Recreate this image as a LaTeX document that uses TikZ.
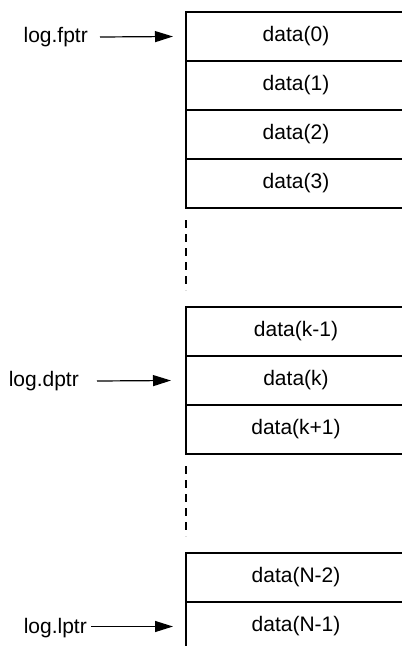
\documentclass[tikz,border=0pt]{standalone}
\usepackage{fontspec}
\setmainfont{Liberation Sans}
\usetikzlibrary{positioning, arrows.meta}

\begin{document}
\begin{tikzpicture}[x=1pt, y=-1pt,
        cell/.style={draw, line width=1.2pt, rectangle, outer sep=0pt, inner sep=0pt,
            minimum width=220pt, minimum height=49pt, font=\fontsize{21}{25}\selectfont},
        ptrlabel/.style={inner sep=0pt, anchor=east, font=\fontsize{21}{25}\selectfont},
        ptrarrow/.style={line width=1.2pt, -{Triangle[length=18pt, width=11pt]}},
        gap/.style={line width=1.2pt, dash pattern=on 8pt off 6pt}
    ]
    \useasboundingbox (0,0) rectangle (402,646);

    % first block
    \node[cell, anchor=north west] (d0) at (186,12) {data(0)};
    \node[cell, below=0pt of d0] (d1) {data(1)};
    \node[cell, below=0pt of d1] (d2) {data(2)};
    \node[cell, below=0pt of d2] (d3) {data(3)};

    % middle block
    \node[cell, anchor=north west] (dkm) at (186,307) {data(k-1)};
    \node[cell, below=0pt of dkm] (dk) {data(k)};
    \node[cell, below=0pt of dk] (dkp) {data(k+1)};

    % last block
    \node[cell, anchor=north west] (dnm) at (186,553) {data(N-2)};
    \node[cell, below=0pt of dnm] (dn) {data(N-1)};

    % skipped entries
    \draw[gap] ([yshift=-12pt]d3.south west) -- ([yshift=17pt]dkm.north west);
    \draw[gap] ([yshift=-12pt]dkp.south west) -- ([yshift=17pt]dnm.north west);

    % pointers
    \node[ptrlabel] (fptr) at (88,37) {log.fptr};
    \node[ptrlabel] (dptr) at (79,381) {log.dptr};
    \node[ptrlabel] (lptr) at (87,628) {log.lptr};

    \draw[ptrarrow] ([xshift=12pt]fptr.east) -- ([xshift=-13pt]d0.west);
    \draw[ptrarrow] ([xshift=18pt]dptr.east) -- ([xshift=-15pt]dk.west);
    \draw[ptrarrow] ([xshift=4pt]lptr.east |- dn.west) -- ([xshift=-13pt]dn.west);

\end{tikzpicture}
\end{document}
